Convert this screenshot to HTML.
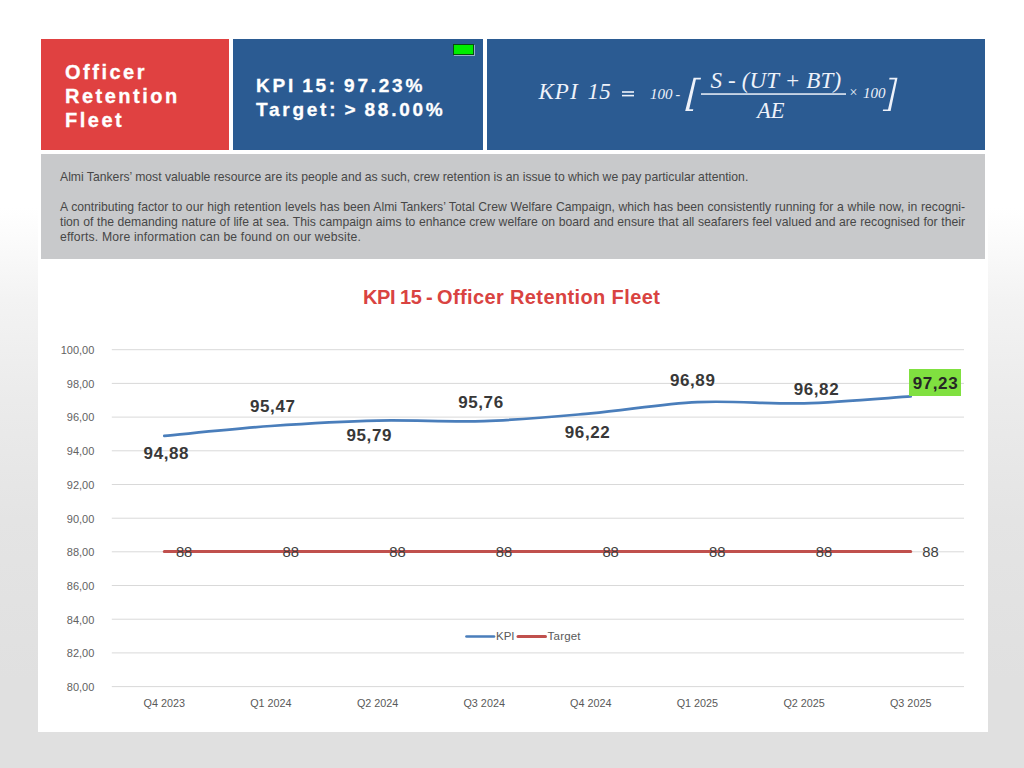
<!DOCTYPE html>
<html><head><meta charset="utf-8">
<style>
*{margin:0;padding:0;box-sizing:border-box}
html,body{width:1024px;height:768px;overflow:hidden}
body{position:relative;font-family:"Liberation Sans",sans-serif;
background:linear-gradient(to bottom,#ffffff 0,#ffffff 208px,#f3f3f3 300px,#ebebeb 400px,#e4e4e4 520px,#e0e0e0 680px,#e0e0e0 768px);}
.page{position:absolute;left:38px;top:0;width:950px;height:732px;background:#fff}
.abs{position:absolute}
.red{left:41px;top:39px;width:188px;height:111px;background:#e04141}
.blue1{left:233px;top:39px;width:250px;height:111px;background:#2b5b92}
.blue2{left:487px;top:39px;width:498px;height:111px;background:#2b5b92}
.gray{left:41px;top:154px;width:944px;height:105px;background:#c8c9cb}
.ttl{left:65px;top:59.7px;-webkit-text-stroke:0.3px #fff;color:#fff;font-weight:bold;font-size:20px;line-height:24px;letter-spacing:2.5px;white-space:nowrap}
.kpi{left:256px;top:74px;-webkit-text-stroke:0.3px #fff;color:#fff;font-weight:bold;font-size:19px;line-height:23.6px;letter-spacing:2.75px;word-spacing:-1.8px;white-space:nowrap}
.led{left:453px;top:44px;width:21px;height:11px;background:#00ee00;border:1px solid #064f10;box-shadow:1px 1px 0 rgba(255,255,255,0.5)}
.para{left:60px;top:170px;width:905px;font-size:12.2px;line-height:15px;color:#474747}
.para .j{text-align:justify;text-align-last:justify;white-space:nowrap}
.para div{height:15px;white-space:nowrap}
.ctitle{left:363px;top:286px;font-size:20px;font-weight:bold;color:#d94341;letter-spacing:0.38px;white-space:nowrap}
.yl{position:absolute;width:40px;text-align:right;font-size:11px;color:#626262;left:54.3px}
.xl{position:absolute;width:80px;text-align:center;font-size:10.8px;color:#595959}
.dl{position:absolute;font-size:17px;line-height:17px;font-weight:bold;letter-spacing:0.6px;color:#383838;white-space:nowrap;margin-top:1.4px}
.tl{position:absolute;font-size:14.8px;line-height:15px;color:#404040}
</style></head><body>
<div class="page"></div>
<div class="abs red"></div>
<div class="abs blue1"></div>
<div class="abs blue2"></div>
<div class="abs gray"></div>
<div class="abs ttl">Officer<br>Retention<br>Fleet</div>
<div class="abs kpi">KPI 15: 97.23%<br>Target: &gt; 88.00%</div>
<div class="abs led"></div>

<svg class="abs" style="left:0;top:0" width="1024" height="768" viewBox="0 0 1024 768">
 <g fill="#eef2fa" font-family="Liberation Serif" font-style="italic">
  <text x="538.5" y="99.2" font-size="23" letter-spacing="1">KPI</text>
  <text x="587.5" y="99.2" font-size="23" letter-spacing="0.3">15</text>
  <text x="650" y="98.5" font-size="15">100</text>
  <text x="675.5" y="98.5" font-size="14">-</text>
  <text x="710.5" y="87.9" font-size="23" letter-spacing="0.15">S - (UT + BT)</text>
  <text x="757" y="118.4" font-size="22.5">AE</text>
  <text x="849.5" y="97.3" font-size="14" font-style="normal">×</text>
  <text x="863" y="97.6" font-size="15">100</text>
  <rect x="622" y="91.2" width="12" height="1.6"/>
  <rect x="622" y="94.8" width="12" height="1.6"/>
  <rect x="701" y="93.3" width="145" height="1.5"/>
  <path d="M693.6,77.8 L701,77.8 L700.7,79.4 L695.9,79.4 L689.2,109.2 L693.3,109.2 L692.9,111 L685.2,111 Z"/>
  <path d="M889.5,77.8 L897.5,77.8 L890.6,111 L882.8,111 L883.1,109.4 L888,109.4 L894.9,79.6 L889.2,79.6 Z"/>
 </g>
</svg>

<div class="abs para">
<div>Almi Tankers’ most valuable resource are its people and as such, crew retention is an issue to which we pay particular attention.</div>
<div></div>
<div class="j">A contributing factor to our high retention levels has been Almi Tankers’ Total Crew Welfare Campaign, which has been consistently running for a while now, in recogni-</div>
<div class="j">tion of the demanding nature of life at sea. This campaign aims to enhance crew welfare on board and ensure that all seafarers feel valued and are recognised for their</div>
<div style="letter-spacing:0.17px">efforts. More information can be found on our website.</div>
</div>

<div class="abs ctitle"><span style="letter-spacing:-0.35px;word-spacing:-0.6px">KPI 15 - </span>Officer Retention Fleet</div>

<svg class="abs" style="left:0;top:0" width="1024" height="768" viewBox="0 0 1024 768">
 <g fill="#d9d9d9">
  <rect x="111.8" y="349.2" width="852.2" height="1"/>
  <rect x="111.8" y="382.9" width="852.2" height="1"/>
  <rect x="111.8" y="416.6" width="852.2" height="1"/>
  <rect x="111.8" y="450.3" width="852.2" height="1"/>
  <rect x="111.8" y="484" width="852.2" height="1"/>
  <rect x="111.8" y="517.7" width="852.2" height="1"/>
  <rect x="111.8" y="551.3" width="852.2" height="1"/>
  <rect x="111.8" y="585" width="852.2" height="1"/>
  <rect x="111.8" y="618.7" width="852.2" height="1"/>
  <rect x="111.8" y="652.4" width="852.2" height="1"/>
  <rect x="111.8" y="686.1" width="852.2" height="1"/>
 </g>
 <line x1="164.3" y1="551.6" x2="910.7" y2="551.6" stroke="#c0504d" stroke-width="3" stroke-linecap="round"/>
 <path d="M164.3,435.9 C182.1,434.3 235.4,428.6 270.9,426.0 C306.5,423.5 342.0,421.4 377.6,420.6 C413.1,419.8 448.6,422.3 484.2,421.1 C519.7,419.9 555.3,416.5 590.8,413.4 C626.4,410.2 661.9,403.8 697.4,402.1 C733.0,400.4 768.5,404.2 804.1,403.3 C839.6,402.3 892.9,397.5 910.7,396.4" fill="none" stroke="#4a7ebb" stroke-width="2.7" stroke-linecap="round"/>
 <rect x="909" y="369" width="52" height="27" fill="#80e040"/>
 <line x1="466.5" y1="636.5" x2="494" y2="636.5" stroke="#4a7ebb" stroke-width="2.7" stroke-linecap="round"/>
 <line x1="518" y1="636.5" x2="545.5" y2="636.5" stroke="#c0504d" stroke-width="3" stroke-linecap="round"/>
</svg>


<div class="yl" style="top:344.0px">100,00</div>
<div class="yl" style="top:377.7px">98,00</div>
<div class="yl" style="top:411.4px">96,00</div>
<div class="yl" style="top:445.1px">94,00</div>
<div class="yl" style="top:478.8px">92,00</div>
<div class="yl" style="top:512.5px">90,00</div>
<div class="yl" style="top:546.1px">88,00</div>
<div class="yl" style="top:579.8px">86,00</div>
<div class="yl" style="top:613.5px">84,00</div>
<div class="yl" style="top:647.2px">82,00</div>
<div class="yl" style="top:680.9px">80,00</div>

<div class="xl" style="left:124.3px;top:696.8px">Q4 2023</div>
<div class="xl" style="left:230.9px;top:696.8px">Q1 2024</div>
<div class="xl" style="left:337.6px;top:696.8px">Q2 2024</div>
<div class="xl" style="left:444.2px;top:696.8px">Q3 2024</div>
<div class="xl" style="left:550.8px;top:696.8px">Q4 2024</div>
<div class="xl" style="left:657.4px;top:696.8px">Q1 2025</div>
<div class="xl" style="left:764.1px;top:696.8px">Q2 2025</div>
<div class="xl" style="left:870.7px;top:696.8px">Q3 2025</div>

<div class="dl" style="left:143.6px;top:443.7px">94,88</div>
<div class="dl" style="left:250.0px;top:396.9px">95,47</div>
<div class="dl" style="left:346.5px;top:425.4px">95,79</div>
<div class="dl" style="left:458.2px;top:392.5px">95,76</div>
<div class="dl" style="left:564.8px;top:422.8px">96,22</div>
<div class="dl" style="left:669.9px;top:370.5px">96,89</div>
<div class="dl" style="left:793.7px;top:379.6px">96,82</div>
<div class="dl" style="left:912.7px;top:373.7px;color:#262626">97,23</div>

<div class="tl" style="left:175.9px;top:544.5px">88</div>
<div class="tl" style="left:282.5px;top:544.5px">88</div>
<div class="tl" style="left:389.2px;top:544.5px">88</div>
<div class="tl" style="left:495.8px;top:544.5px">88</div>
<div class="tl" style="left:602.4px;top:544.5px">88</div>
<div class="tl" style="left:709.1px;top:544.5px">88</div>
<div class="tl" style="left:815.7px;top:544.5px">88</div>
<div class="tl" style="left:922.3px;top:544.5px">88</div>

<div class="abs" style="left:496px;top:629.5px;font-size:11.5px;color:#595959">KPI</div>
<div class="abs" style="left:547.6px;top:629.5px;font-size:11.5px;color:#595959;letter-spacing:0.2px">Target</div>
</body></html>
